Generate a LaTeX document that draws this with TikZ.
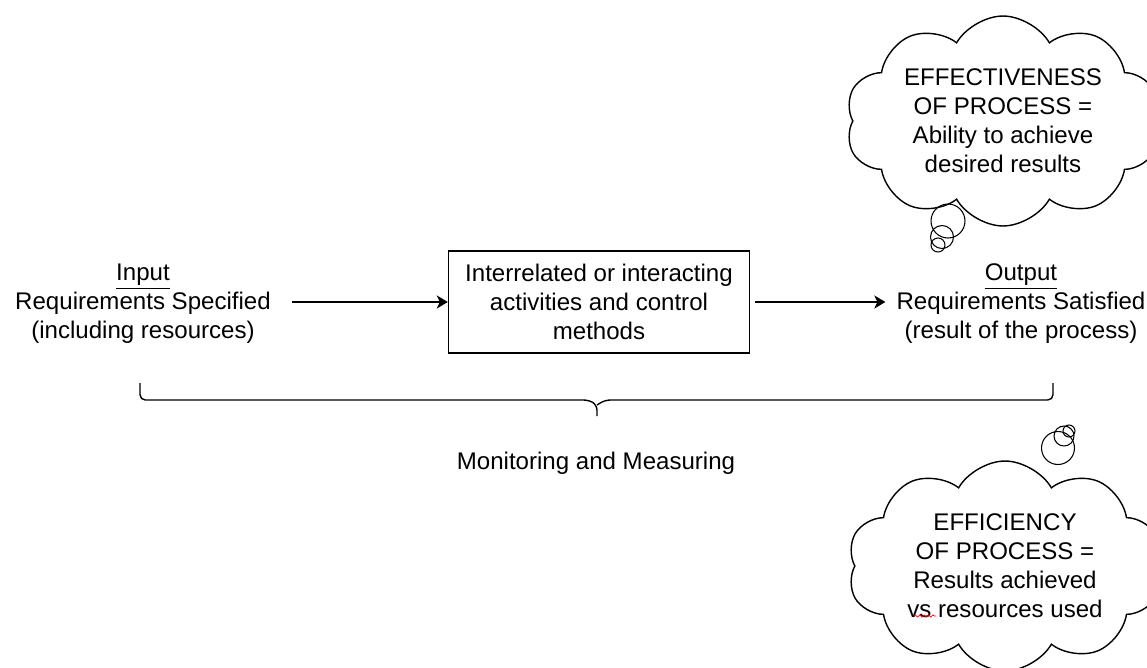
\documentclass[tikz,border=0pt]{standalone}
\usepackage{fontspec}
\setmainfont{Liberation Sans}
\usetikzlibrary{positioning}
\usetikzlibrary{arrows.meta}
\usetikzlibrary{shapes.symbols}
\usetikzlibrary{decorations.pathmorphing}
\tikzset{every node/.style={
        font=\fontsize{13.7}{16.5}\selectfont,
        align=center},
    activity/.style={
        draw,
        thick,
        minimum width=6.02cm,
        minimum height=2.04cm},
    thought/.style={
        cloud,
        draw,
        thick,
        cloud ignores aspect,
        cloud puffs=10,
        cloud puff arc=120,
        minimum width=6.3cm,
        minimum height=4.2cm,
        inner sep=0pt},
    bubble/.style={
        circle,
        draw,
        semithick,
        inner sep=0pt},
    flow/.style={
        draw,
        ->,>={Stealth[length=0.22cm,width=0.26cm,inset=0.06cm]},
        line width=1.1pt},
    bracket/.style={
        draw,
        thick,
        rounded corners=3pt}}

\begin{document}
\begin{tikzpicture}[x=0.02cm,y=-0.02cm]
        \useasboundingbox (0,0) rectangle (1147,667);
        \clip (0,0) rectangle (1147,667);
        % the process line
        \node (input) at (143,304) {\underline{Input}\\Requirements Specified\\(including resources)};
        \node[activity] (proc) at (599,302) {Interrelated or interacting\\activities and control\\methods};
        \node (output) at (1021,304) {\underline{Output}\\Requirements Satisfied\\(result of the process)};
        \draw[flow,shorten <=0.3cm] (input.east |- proc) -- (proc);
        \draw[flow,shorten <=0.1cm,shorten >=0.1cm] (proc) -- (proc -| output.west);
        % monitoring
        \coordinate (bl) at (140,383);
        \coordinate (br) at (1053,383);
        \coordinate (tip) at (597,416);
        \draw[bracket] (bl) |- (589,400) -- (597,405) -- (tip);
        \draw[bracket] (br) |- (605,400) -- (597,405);
        \node (monitor) at (596,463) {Monitoring and Measuring};
        % thought clouds
        \node[thought] (effect) at (1003,121) {EFFECTIVENESS\\OF PROCESS =\\Ability to achieve\\desired results};
        \node[bubble,minimum size=0.68cm] (ea) at (948,221) {};
        \node[bubble,minimum size=0.46cm] (eb) at (942,237) {};
        \node[bubble,minimum size=0.28cm] (ec) at (938,245) {};
        \node[thought] (effic) at (1005,566) {EFFICIENCY\\OF PROCESS =\\Results achieved\\vs resources used};
        \node[bubble,minimum size=0.66cm] (fa) at (1058,448) {};
        \node[bubble,minimum size=0.40cm] (fb) at (1064,436) {};
        \node[bubble,minimum size=0.24cm] (fc) at (1069,431) {};
        \coordinate (sqa) at (914,616);
        \coordinate (sqb) at (936,616);
        \draw[red,decorate,decoration={snake,amplitude=0.6pt,segment length=2.5pt}] (sqa) -- (sqb);
    \end{tikzpicture}
\end{document}
